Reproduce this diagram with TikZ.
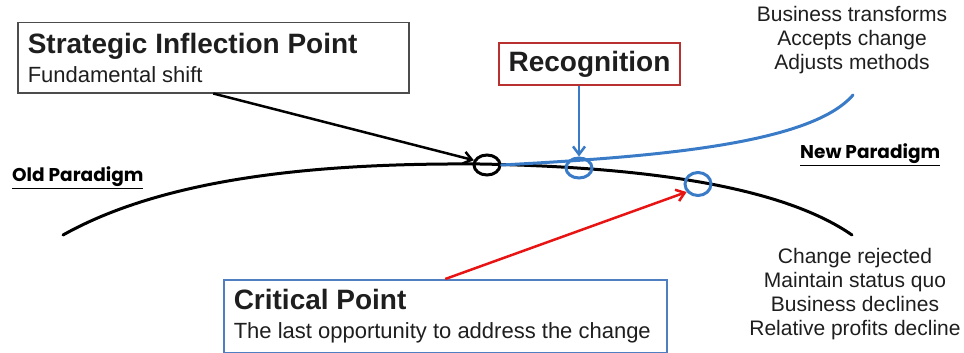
\documentclass[tikz,border=0pt]{standalone}
\usepackage{fontspec}
\setmainfont{Liberation Sans}
\newfontfamily\paradigmfont{Poppins}
\usepackage{tikz}
\usetikzlibrary{shapes.geometric,arrows.meta}
\definecolor{recred}{HTML}{B8302F}
\definecolor{ringblue}{HTML}{3A7BC8}
\definecolor{critblue}{HTML}{4F7FC0}
\definecolor{inkgray}{HTML}{1E1E1E}
\definecolor{shiftred}{HTML}{E81414}
\def\callout#1#2{\spaceskip=0pt\xspaceskip=0pt\relax
  {\fontsize{28}{30}\selectfont\bfseries #1\par}{\fontsize{22}{29}\selectfont #2\par}}
\tikzstyle{callout}=[draw,line width=1.5pt,anchor=north west,align=left,inner xsep=10pt,text=inkgray]
\tikzstyle{ring}=[ellipse,draw,line width=3pt,minimum width=26pt,minimum height=20pt,inner sep=0pt]
\tikzstyle{outcome}=[align=center,font=\fontsize{21}{24}\selectfont,text=inkgray]
\tikzstyle{paradigm}=[anchor=west,inner sep=0pt,font=\paradigmfont\bfseries\fontsize{18.5}{20}\selectfont]
\tikzstyle{pointer}=[line width=2.5pt,-{Straight Barb[length=8pt,width=12pt]}]

\begin{document}
\begin{tikzpicture}[x=1pt,y=-1pt]
    \useasboundingbox (0,0) rectangle (964,353);
    % the two paradigm curves
    \draw[line width=3pt,line cap=round] (63,235) .. controls (170,175) and (330,163) .. (480,164)
        .. controls (640,167) and (780,185) .. (852,235);
    \node[ring,draw=black] (sip) at (487,165) {};
    \node[ring,draw=ringblue] (recring) at (579,168) {};
    \node[ring,draw=ringblue,minimum height=23pt] (critring) at (698,184) {};
    \draw[ringblue,line width=3pt,line cap=round] (sip.east) .. controls (650,157) and (810,145) .. (853,95);
    % callouts
    \node[callout,draw=black!70,text width=371pt,minimum height=70pt] (sipbox) at (17,22)
        {\callout{Strategic Inflection Point}{Fundamental shift}};
    \node[draw=recred,line width=1.5pt,minimum width=181pt,minimum height=42pt,text=inkgray,
        font=\fontsize{28}{30}\selectfont\bfseries] (rec) at (589.5,64) {Recognition};
    \node[callout,draw=critblue,text width=423pt,minimum height=73pt] (crit) at (223,279)
        {\callout{Critical Point}{The last opportunity to address the change}};
    \draw[pointer,black] (sipbox.south) -- (sip.160);
    \draw[pointer,ringblue] (rec.south -| recring) -- (recring.north);
    \draw[pointer,shiftred] (crit.north) -- (critring.215);
    % outcomes
    \node[outcome] (accept) at (852,40) {Business transforms\\Accepts change\\Adjusts methods};
    \node[outcome] (reject) at (855,294) {Change rejected\\Maintain status quo\\Business declines\\Relative profits decline};
    \node[paradigm] (old) at (12,178) {\underline{Old Paradigm}};
    \node[paradigm] (new) at (800,155) {\underline{New Paradigm}};
  \end{tikzpicture}
\end{document}
